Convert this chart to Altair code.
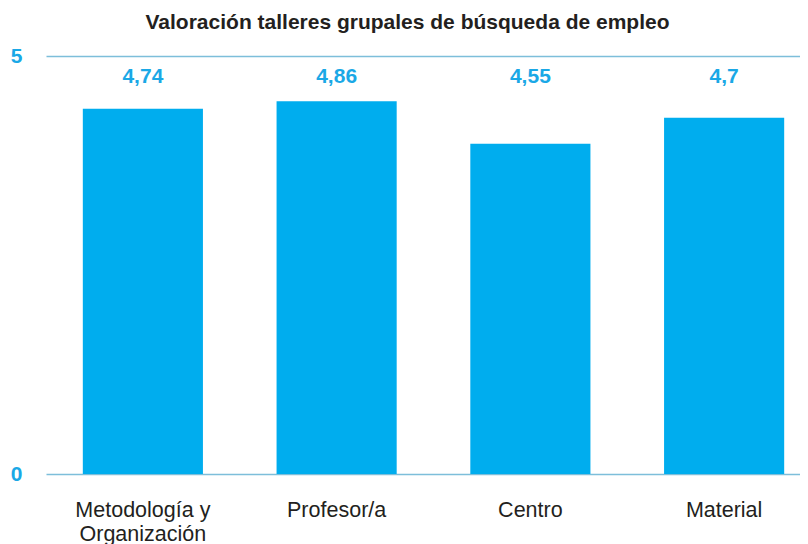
import altair as alt
import pandas as pd

categories = ["Metodología y Organización", "Profesor/a", "Centro", "Material"]
# bar heights as drawn in the picture (on the 0–5 axis)
bar_heights = [4.37, 4.46, 3.95, 4.26]
# value labels printed above the bars
value_labels = ["4,74", "4,86", "4,55", "4,7"]
y_ticks = [0, 5]
title_text = "Valoración talleres grupales de búsqueda de empleo"

df = pd.DataFrame({"cat": categories, "h": bar_heights, "lab": value_labels})

FONT = "Liberation Sans"
BAR = "#00ADEE"
BLUE_TXT = "#1AA8E6"
GRID = "#7DBEDA"
DARK = "#231F20"

x = alt.X("cat:N", sort=categories, title=None,
          scale=alt.Scale(range=[-2, 773], paddingInner=0.38, paddingOuter=0.19),
          axis=alt.Axis(domain=False, ticks=False, tickSize=0, labelAngle=0,
                        labelFont=FONT, labelFontSize=21.5, labelColor=DARK,
                        labelPadding=25, labelLineHeight=24,
                        labelExpr="split(replace(datum.label, ' y ', ' y\\n'), '\\n')"))

bars = alt.Chart(df).mark_bar(color=BAR).encode(
    x=x,
    y=alt.Y("h:Q", title=None,
            scale=alt.Scale(domain=[0, 5], nice=False),
            axis=alt.Axis(values=y_ticks, grid=True, gridColor=GRID, gridWidth=1.5,
                          domain=False, ticks=False, tickSize=0,
                          labelFont=FONT, labelFontSize=21, labelFontWeight="bold",
                          labelColor=BLUE_TXT, labelPadding=26)),
)

texts = alt.Chart(df).mark_text(font=FONT, fontSize=21, fontWeight="bold",
                                color=BLUE_TXT, baseline="middle").encode(
    x=alt.X("cat:N", sort=categories),
    y=alt.value(21),
    text="lab:N",
)

title = alt.Chart(pd.DataFrame({"t": [title_text]})).mark_text(
    font=FONT, fontSize=21, fontWeight="bold", color=DARK,
    baseline="alphabetic", align="center").encode(
    x=alt.value(359.5), y=alt.value(-27), text="t:N")

chart = alt.layer(bars, texts, title).properties(
    width=752, height=418,
    autosize=alt.AutoSizeParams(type="none"),
    padding={"left": 40, "top": 48, "right": 0, "bottom": 70},
).configure_view(stroke=None)

chart.save("out.html", embed_options={"renderer": "svg", "actions": False})
